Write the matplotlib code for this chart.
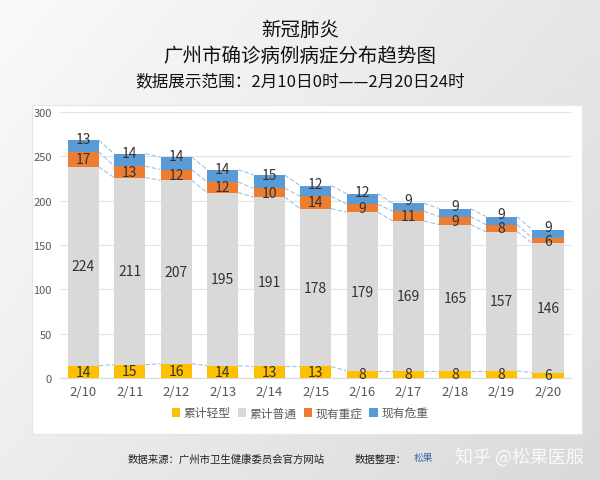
import matplotlib
matplotlib.use('Agg')
import matplotlib.pyplot as plt
import numpy as np
from matplotlib.patches import Rectangle

plt.rcParams['font.family'] = ['Noto Sans CJK SC', 'DejaVu Sans']

# data
dates = ['2/10', '2/11', '2/12', '2/13', '2/14', '2/15', '2/16', '2/17', '2/18', '2/19', '2/20']
mild = [14, 15, 16, 14, 13, 13, 8, 8, 8, 8, 6]
normal = [224, 211, 207, 195, 191, 178, 179, 169, 165, 157, 146]
severe = [17, 13, 12, 12, 10, 14, 9, 11, 9, 8, 6]
critical = [13, 14, 14, 14, 15, 12, 12, 9, 9, 9, 9]
series_names = ['累计轻型', '累计普通', '现有重症', '现有危重']
colors = ['#FFC000', '#D9D9D9', '#ED7D31', '#5B9BD5']

fig = plt.figure(figsize=(6, 4.81), dpi=100)

# gradient background
bg = fig.add_axes([0, 0, 1, 1], zorder=-10)
xx, yy = np.meshgrid(np.linspace(0, 1, 200), np.linspace(0, 1, 200))
grad = 0.98 - 0.13 * (0.6 * xx + 0.4 * yy)
bg.imshow(grad, cmap='gray', vmin=0, vmax=1, extent=[0, 1, 0, 1], aspect='auto', origin='upper')
bg.axis('off')

# white chart panel
fig.patches.append(Rectangle((32 / 600, 1 - 435 / 481), (582 - 32) / 600, (435 - 106) / 481,
                             transform=fig.transFigure, facecolor='white',
                             edgecolor='#e6e6e6', linewidth=0.8, zorder=-5))

ax = fig.add_axes([0.1, 1 - 379 / 481, 0.852, (379 - 113) / 481])
ax.set_facecolor('none')

x = np.arange(len(dates))
width = 0.67
data = [mild, normal, severe, critical]
label_shift = [0, 0, 0, 5]  # top labels sit a bit higher in the original, in points
bottom = np.zeros(len(dates))
tops = []
for vals, name, c, sh in zip(data, series_names, colors, label_shift):
    vals = np.array(vals)
    ax.bar(x, vals, width, bottom=bottom, color=c, label=name, zorder=3)
    for xi, b, v in zip(x, bottom, vals):
        ax.annotate(str(v), (xi, b + v / 2), xytext=(0, sh), textcoords='offset points',
                    ha='center', va='center', fontsize=10, color='#333333', zorder=5)
    bottom = bottom + vals
    tops.append(bottom.copy())

# series lines between bars
for t in tops:
    for i in range(len(dates) - 1):
        ax.plot([x[i] + width / 2, x[i + 1] - width / 2], [t[i], t[i + 1]],
                color='#9DC3E6', linestyle=(0, (4, 2)), linewidth=0.8, zorder=2)

ax.set_xlim(-0.5, len(dates) - 0.5)
ax.set_ylim(0, 300)
ax.set_yticks(range(0, 301, 50))
ax.set_xticks(x)
ax.set_xticklabels(dates)
ax.tick_params(axis='y', length=0, labelsize=8, labelcolor='#595959', pad=6)
ax.tick_params(axis='x', length=0, labelsize=9.5, labelcolor='#595959', pad=5)
ax.grid(axis='y', color='#e3e3e3', linewidth=0.8, zorder=0)
for s in ['top', 'right', 'left']:
    ax.spines[s].set_visible(False)
ax.spines['bottom'].set_color('#d9d9d9')

leg = fig.legend(loc='center', bbox_to_anchor=(0.5, 1 - 414 / 481), ncol=4, frameon=False,
                 fontsize=8.5, handlelength=0.7, handleheight=0.7, handletextpad=0.3,
                 columnspacing=0.6, labelcolor='#595959')

fig.text(0.5, 1 - 30 / 481, '新冠肺炎', ha='center', va='center', fontsize=14, color='#111111')
fig.text(0.5, 1 - 57 / 481, '广州市确诊病例病症分布趋势图', ha='center', va='center', fontsize=14, color='#111111')
fig.text(0.5, 1 - 82 / 481, '数据展示范围：2月10日0时——2月20日24时', ha='center', va='center', fontsize=12, color='#111111')

fig.text(128 / 600, 1 - 460 / 481, '数据来源：广州市卫生健康委员会官方网站', ha='left', va='center', fontsize=7.5, color='#222222')
fig.text(355 / 600, 1 - 460 / 481, '数据整理：', ha='left', va='center', fontsize=7.5, color='#222222')
fig.text(414 / 600, 1 - 458 / 481, '松果', ha='left', va='center', fontsize=7, color='#3a6ea5')
fig.text(455 / 600, 1 - 457 / 481, '知乎 @松果医服', ha='left', va='center', fontsize=13, color='white', alpha=0.85)

fig.savefig('out.png', dpi=100)
